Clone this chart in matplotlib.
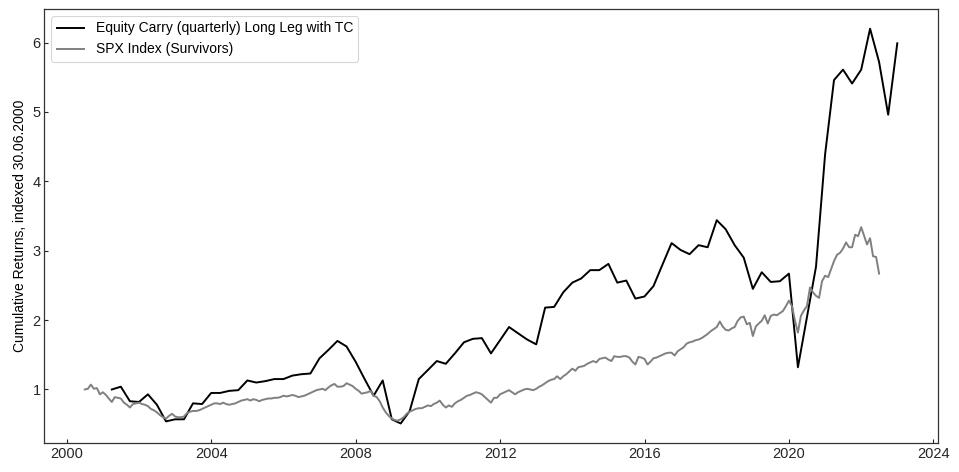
import numpy as np
import pandas as pd
import matplotlib
matplotlib.use("Agg")
import matplotlib.pyplot as plt
import matplotlib.dates as mdates

# quarterly long leg, first obs end of Q1 2001
carry_start = "2001-03-31"
carry = [
    1.00, 1.04, 0.83, 0.82, 0.93, 0.78, 0.54, 0.57, 0.57, 0.80, 0.79, 0.95,
    0.95, 0.98, 0.99, 1.13, 1.10, 1.12, 1.15, 1.15, 1.20, 1.22, 1.23, 1.45,
    1.57, 1.70, 1.62, 1.40, 1.15, 0.91, 1.13, 0.57, 0.51, 0.69, 1.15, 1.28,
    1.41, 1.37, 1.52, 1.68, 1.73, 1.74, 1.52, 1.71, 1.90, 1.81, 1.72, 1.65,
    2.18, 2.19, 2.40, 2.54, 2.60, 2.72, 2.72, 2.81, 2.54, 2.57, 2.31, 2.34,
    2.49, 2.80, 3.11, 3.01, 2.95, 3.08, 3.05, 3.44, 3.31, 3.08, 2.90, 2.45,
    2.69, 2.55, 2.56, 2.67, 1.32, 2.04, 2.77, 4.39, 5.46, 5.61, 5.41, 5.61,
    6.20, 5.72, 4.96, 5.99,
]

# monthly SPX survivors, indexed 30.06.2000
spx_start = "2000-06-30"
spx = [
    1.00, 1.01, 1.07, 1.01, 1.02, 0.93, 0.96, 0.92, 0.87, 0.82, 0.89, 0.88,
    0.87, 0.81, 0.78, 0.74, 0.79, 0.80, 0.81, 0.79, 0.78, 0.76, 0.72, 0.70,
    0.67, 0.63, 0.60, 0.58, 0.62, 0.65, 0.61, 0.60, 0.60, 0.61, 0.66, 0.68,
    0.69, 0.69, 0.70, 0.72, 0.74, 0.76, 0.78, 0.80, 0.80, 0.79,
    0.81, 0.79, 0.78, 0.79, 0.80, 0.82, 0.84, 0.85, 0.86, 0.84, 0.86, 0.85,
    0.83, 0.85, 0.86, 0.87, 0.87, 0.88, 0.88, 0.89, 0.91, 0.90, 0.91, 0.92,
    0.91, 0.89, 0.90, 0.91, 0.93, 0.95, 0.97, 0.99, 1.00, 1.01, 0.99, 1.03,
    1.06, 1.08, 1.04, 1.04, 1.05, 1.09, 1.07, 1.05, 1.01,
    0.98, 0.94, 0.95, 0.96, 0.98, 0.91, 0.89, 0.83, 0.74, 0.67, 0.62, 0.58,
    0.56, 0.55, 0.57, 0.60, 0.65, 0.68, 0.70, 0.72, 0.73, 0.73, 0.75, 0.77,
    0.76, 0.79, 0.81, 0.84, 0.78, 0.74, 0.77, 0.75, 0.80, 0.83, 0.85, 0.88,
    0.91, 0.92, 0.94, 0.96, 0.95, 0.93, 0.89, 0.85, 0.81, 0.88, 0.88,
    0.93, 0.95, 0.97, 0.99, 0.96, 0.93, 0.96, 0.98, 1.00, 1.01, 1.00, 0.99,
    1.01, 1.04, 1.06, 1.09, 1.12, 1.14, 1.15, 1.19, 1.15, 1.19, 1.22, 1.26,
    1.30, 1.27, 1.32, 1.33, 1.34, 1.37, 1.39, 1.41, 1.39, 1.44, 1.45, 1.46,
    1.43, 1.41, 1.48, 1.47, 1.47, 1.48, 1.48, 1.46, 1.40, 1.36, 1.47,
    1.46, 1.44, 1.36, 1.40, 1.45, 1.46, 1.48, 1.50, 1.52, 1.53, 1.53, 1.49,
    1.55, 1.58, 1.61, 1.66, 1.68, 1.69, 1.71, 1.72, 1.74, 1.77, 1.80, 1.84,
    1.87, 1.90, 1.98, 1.91, 1.86, 1.85, 1.88, 1.90, 1.99, 2.04, 2.05, 1.94,
    1.96, 1.77, 1.91, 1.95, 1.99, 2.07, 1.95, 2.06, 2.08, 2.07,
    2.10, 2.13, 2.20, 2.28, 2.20, 2.00, 1.82, 2.06, 2.14, 2.20, 2.47, 2.40,
    2.35, 2.32, 2.56, 2.64, 2.62, 2.73, 2.85, 2.94, 2.97, 3.03, 3.12, 3.05,
    3.05, 3.23, 3.21, 3.34, 3.21, 3.09, 3.18, 2.92, 2.91, 2.67,
]

carry_dates = pd.date_range(carry_start, periods=len(carry), freq="QE")
spx_dates = pd.date_range(spx_start, periods=len(spx), freq="ME")

plt.rcParams["font.family"] = ["Liberation Sans", "DejaVu Sans"]
plt.rcParams["font.size"] = 10

fig = plt.figure(figsize=(9.59, 4.72), dpi=100)
ax = fig.add_axes([0.046, 0.061, 0.932, 0.920])

ax.plot(carry_dates, carry, color="black", lw=1.4,
        label="Equity Carry (quarterly) Long Leg with TC")
ax.plot(spx_dates, spx, color="#808080", lw=1.4, label="SPX Index (Survivors)")

ax.xaxis.set_major_locator(mdates.YearLocator(4))
ax.xaxis.set_major_formatter(mdates.DateFormatter("%Y"))
ax.set_ylabel("Cumulative Returns, indexed 30.06.2000", fontsize=10, labelpad=4)

for s in ax.spines.values():
    s.set_color("#333333")
    s.set_linewidth(0.9)
ax.tick_params(colors="#262626", labelsize=10.5, length=3, width=0.8, pad=2.5,
               direction="in")

leg = ax.legend(loc="upper left", fontsize=10, frameon=True, fancybox=True,
                edgecolor="#cccccc", handlelength=2.0)
leg.get_frame().set_linewidth(0.8)

fig.savefig("out.png", dpi=100)
